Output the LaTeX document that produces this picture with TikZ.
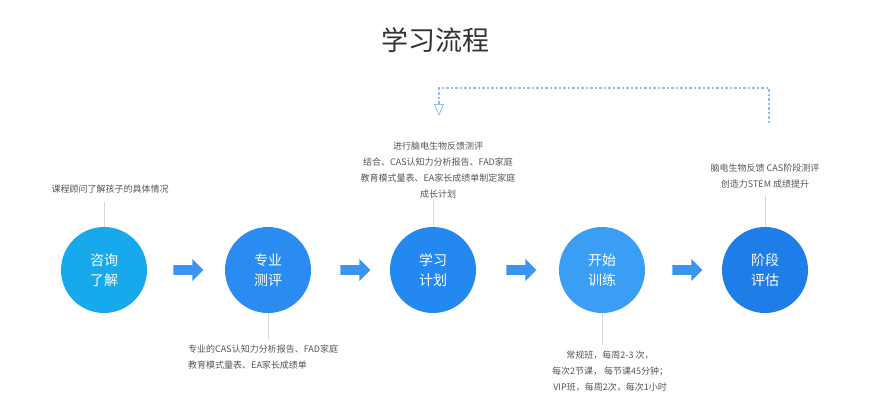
\documentclass[tikz,border=0pt]{standalone}
\usepackage{fontspec}
\setmainfont{Noto Sans CJK SC}
\usetikzlibrary{arrows.meta,shapes.arrows}
\definecolor{c1}{HTML}{17A9EC}
\definecolor{c2}{HTML}{2A8CF0}
\definecolor{c3}{HTML}{2388F0}
\definecolor{c4}{HTML}{3A9EF5}
\definecolor{c5}{HTML}{1F7DE8}
\definecolor{arr}{HTML}{3A95F0}
\definecolor{txt}{HTML}{555555}
\definecolor{dashcol}{HTML}{8CBDF5}
\tikzset{
 circ/.style={circle,minimum size=86pt,inner sep=0pt,text=white,font=\fontsize{14}{20}\selectfont,align=center},
 fat/.style={single arrow,fill=arr,minimum height=30pt,minimum width=22pt,single arrow head extend=4pt,inner sep=3pt},
 desc/.style={text=txt,font=\fontsize{9}{16}\selectfont,align=center,inner sep=0pt},
 stem/.style={draw=black!15,line width=0.5pt}
}
\begin{document}
\begin{tikzpicture}[x=1pt,y=-1pt]
\useasboundingbox (0,0) rectangle (870,418);
\node[font=\fontsize{27}{30}\selectfont,text=black!80] (title) at (435,40) {学习流程};
\node[circ,fill=c1] (n1) at (104,270) {咨询\\了解};
\node[circ,fill=c2] (n2) at (268,270) {专业\\测评};
\node[circ,fill=c3] (n3) at (433,270) {学习\\计划};
\node[circ,fill=c4] (n4) at (602,270) {开始\\训练};
\node[circ,fill=c5] (n5) at (765,270) {阶段\\评估};
\node[fat] (a1) at (186,270) {};
\node[fat] (a2) at (353,270) {};
\node[fat] (a3) at (519,270) {};
\node[fat] (a4) at (685,270) {};
\node[desc] (t1) at (110,189) {课程顾问了解孩子的具体情况};
\node[desc,align=left,anchor=north west] (t2) at (188,345) {专业的CAS认知力分析报告、FAD家庭\\教育模式量表、EA家长成绩单};
\node[desc] (t3) at (438,170) {进行脑电生物反馈测评\\结合、CAS认知力分析报告、FAD家庭\\教育模式量表、EA家长成绩单制定家庭\\成长计划};
\node[desc] (t4) at (610,371) {常规班，每周2-3 次，\\每次2节课， 每节课45分钟；\\VIP班，每周2次，每次1小时};
\node[desc] (t5) at (765,176) {脑电生物反馈 CAS阶段测评\\创造力STEM 成绩提升};
\coordinate (s1) at (104,202);
\coordinate (s2) at (268,340);
\coordinate (s3) at (433,200);
\coordinate (s4) at (602,345);
\coordinate (s5) at (765,195);
\draw[stem] (n1.north) -- (s1);
\draw[stem] (n2.south) -- (s2);
\draw[stem] (n3.north) -- (s3);
\draw[stem] (n4.south) -- (s4);
\draw[stem] (n5.north) -- (s5);
\coordinate (d0) at (769,123);
\coordinate (d1) at (769,88);
\coordinate (d2) at (439,88);
\coordinate (d3) at (439,116);
\draw[dashcol,line width=2.5pt,dotted] (d0) -- (d1) -- (d2) -- (439,105);
\draw[dashcol,line width=0.8pt,-{Triangle[open,width=10pt,length=12pt]}] (439,103) -- (d3);
\end{tikzpicture}
\end{document}
